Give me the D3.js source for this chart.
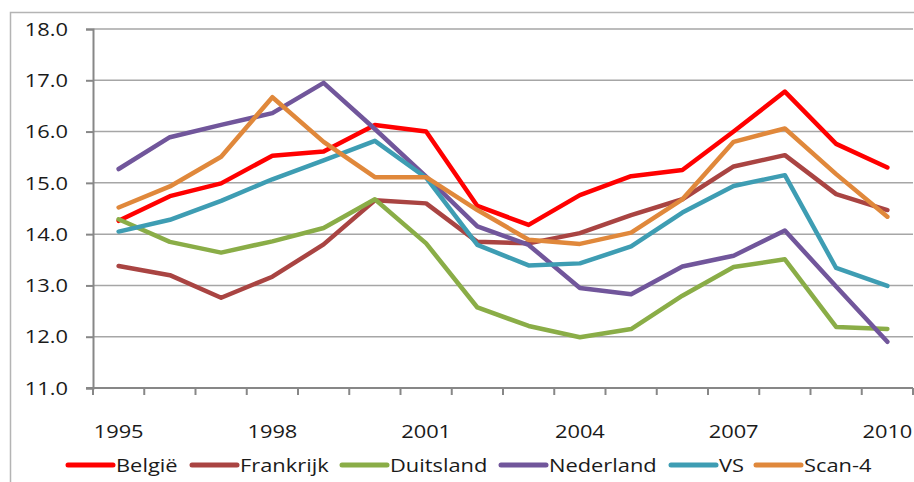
<!DOCTYPE html>
<html>
<head>
<meta charset="utf-8">
<script src="https://cdn.jsdelivr.net/npm/d3@7"></script>
<style>
  body { margin: 0; background: #fff; }
  svg { display: block; }
  text { font-family: "Open Sans", sans-serif; fill: #1a1a1a; }
</style>
</head>
<body>
<script>
// jaren en reeksen
const years = d3.range(1995, 2011)
const yearLabels = [1995, 1998, 2001, 2004, 2007, 2010]
const yTicks = [11, 12, 13, 14, 15, 16, 17, 18]

const names = ['België', 'Frankrijk', 'Duitsland', 'Nederland', 'VS', 'Scan-4']
const colors = ['#ff0000', '#a94442', '#8aad47', '#71569b', '#3e9db3', '#e0883b']

const belgie    = [14.26, 14.74, 14.99, 15.53, 15.61, 16.13, 16.0, 14.55, 14.18, 14.76, 15.13, 15.25, 16.0, 16.78, 15.76, 15.3]
const frankrijk = [13.38, 13.2, 12.76, 13.17, 13.8, 14.66, 14.6, 13.85, 13.82, 14.02, 14.37, 14.68, 15.32, 15.54, 14.78, 14.47]
const duitsland = [14.29, 13.85, 13.64, 13.86, 14.12, 14.68, 13.82, 12.57, 12.21, 11.99, 12.15, 12.8, 13.36, 13.51, 12.19, 12.15]
const nederland = [15.27, 15.89, 16.13, 16.36, 16.95, 16.05, 15.12, 14.15, 13.79, 12.95, 12.83, 13.37, 13.58, 14.07, 12.98, 11.9]
const vs        = [14.05, 14.28, 14.65, 15.07, 15.44, 15.82, 15.1, 13.79, 13.39, 13.43, 13.76, 14.42, 14.94, 15.15, 13.34, 12.99]
const scan4     = [14.52, 14.93, 15.51, 16.67, 15.8, 15.11, 15.11, 14.47, 13.89, 13.81, 14.03, 14.68, 15.8, 16.06, 15.17, 14.34]

const series = [belgie, frankrijk, duitsland, nederland, vs, scan4]

const WIDTH = 914
const HEIGHT = 482
const plotLeft = 93, plotRight = 913, plotTop = 29, plotBottom = 388
const SX = 1.15 // tekst iets breder, zoals in het origineel

const svg = d3.select('body')
  .append('svg')
  .attr('width', WIDTH)
  .attr('height', HEIGHT)

// kader rond de grafiek
svg.append('rect')
  .attr('x', 10.5)
  .attr('y', 12.5)
  .attr('width', WIDTH)
  .attr('height', HEIGHT)
  .attr('fill', 'none')
  .attr('stroke', '#b4b4b4')
  .attr('stroke-width', 1.5)

const band = d3.scaleBand().domain(years).range([plotLeft, plotRight])
const x = d3.scalePoint().domain(years).range([plotLeft, plotRight]).padding(0.5)
const y = d3.scaleLinear().domain([11, 18]).range([plotBottom, plotTop])

// rasterlijnen
svg.selectAll('line.grid')
  .data(yTicks.slice(1))
  .enter()
  .append('line')
  .attr('class', 'grid')
  .attr('x1', plotLeft)
  .attr('x2', plotRight)
  .attr('y1', d => y(d))
  .attr('y2', d => y(d))
  .attr('stroke', '#a6a6a6')
  .attr('stroke-width', 1.5)

// y-as
const yAxis = svg.append('g')
  .attr('transform', `translate(${plotLeft},0)`)
  .call(d3.axisLeft(y).tickValues(yTicks).tickSize(7).tickFormat(''))
yAxis.select('.domain').attr('stroke', '#878787').attr('stroke-width', 2)
yAxis.selectAll('.tick line').attr('stroke', '#878787').attr('stroke-width', 2)

svg.selectAll('text.ylab')
  .data(yTicks)
  .enter()
  .append('text')
  .attr('class', 'ylab')
  .attr('transform', d => `translate(68,${y(d)}) scale(${SX},1)`)
  .attr('text-anchor', 'end')
  .attr('dy', '0.35em')
  .style('font-size', '19px')
  .text(d3.format('.1f'))

// x-as met streepjes tussen de jaren
svg.append('line')
  .attr('x1', plotLeft - 7)
  .attr('x2', plotRight)
  .attr('y1', plotBottom)
  .attr('y2', plotBottom)
  .attr('stroke', '#878787')
  .attr('stroke-width', 2)

svg.selectAll('line.xtick')
  .data(years.map(d => band(d)).concat([plotRight]))
  .enter()
  .append('line')
  .attr('class', 'xtick')
  .attr('x1', d => d)
  .attr('x2', d => d)
  .attr('y1', plotBottom)
  .attr('y2', plotBottom + 7)
  .attr('stroke', '#878787')
  .attr('stroke-width', 2)

svg.selectAll('text.xlab')
  .data(yearLabels)
  .enter()
  .append('text')
  .attr('class', 'xlab')
  .attr('transform', d => `translate(${x(d)},431) scale(${SX},1)`)
  .attr('text-anchor', 'middle')
  .attr('dy', '0.35em')
  .style('font-size', '19px')
  .text(d => d)

// lijnen
const line = d3.line()
  .x((d, i) => x(years[i]))
  .y(d => y(d))

svg.selectAll('path.serie')
  .data(series)
  .enter()
  .append('path')
  .attr('class', 'serie')
  .attr('d', line)
  .attr('fill', 'none')
  .attr('stroke', (d, i) => colors[i])
  .attr('stroke-width', 4.5)
  .attr('stroke-linejoin', 'round')
  .attr('stroke-linecap', 'round')

// legenda
const legendX = [68, 192, 342, 501, 671, 756]
const legend = svg.selectAll('g.legend')
  .data(names)
  .enter()
  .append('g')
  .attr('class', 'legend')
  .attr('transform', (d, i) => `translate(${legendX[i]},465)`)

legend.append('line')
  .attr('x1', 0)
  .attr('x2', 45)
  .attr('stroke', (d, i) => colors[i])
  .attr('stroke-width', 5)
  .attr('stroke-linecap', 'round')

legend.append('text')
  .attr('transform', `translate(48,0) scale(${SX},1)`)
  .attr('dy', '0.35em')
  .style('font-size', '19px')
  .text(d => d)
</script>
</body>
</html>
